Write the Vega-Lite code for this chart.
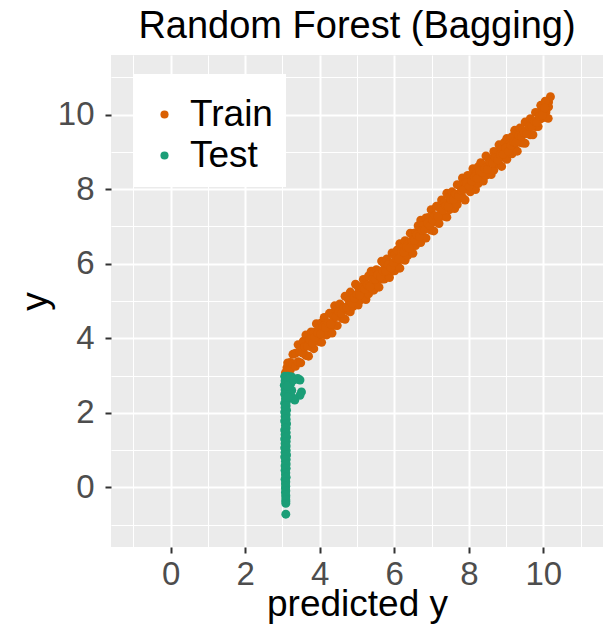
{
  "$schema": "https://vega.github.io/schema/vega-lite/v6.json",
  "width": 492,
  "height": 492,
  "autosize": {"type": "none"},
  "padding": {"left": 111, "top": 55, "right": 5, "bottom": 85},
  "background": "white",
  "title": {"text": "Random Forest (Bagging)", "fontSize": 38, "font": "Liberation Sans", "fontWeight": "normal", "color": "black", "anchor": "middle", "frame": "group", "baseline": "alphabetic", "offset": 16, "dy": 37},
  "config": {
    "view": {"fill": "#EBEBEB", "stroke": null},
    "font": "Liberation Sans",
    "axis": {"domain": false, "gridColor": "white", "tickColor": "#333333", "labelColor": "#4D4D4D", "labelFont": "Liberation Sans", "titleFont": "Liberation Sans", "titleFontWeight": "normal", "titleColor": "black", "labelFlush": false}
  },
  "data": {"values": [
    {"p":3.08,"y":3.08,"s":"Train"},{"p":3.10,"y":3.03,"s":"Train"},
    {"p":3.12,"y":3.21,"s":"Train"},{"p":3.11,"y":3.07,"s":"Train"},
    {"p":3.14,"y":3.34,"s":"Train"},{"p":3.14,"y":3.12,"s":"Train"},
    {"p":3.21,"y":3.35,"s":"Train"},{"p":3.21,"y":3.15,"s":"Train"},
    {"p":3.28,"y":3.57,"s":"Train"},{"p":3.28,"y":3.31,"s":"Train"},
    {"p":3.35,"y":3.60,"s":"Train"},{"p":3.35,"y":3.25,"s":"Train"},
    {"p":3.42,"y":3.83,"s":"Train"},{"p":3.42,"y":3.37,"s":"Train"},
    {"p":3.49,"y":3.77,"s":"Train"},{"p":3.49,"y":3.34,"s":"Train"},
    {"p":3.56,"y":3.92,"s":"Train"},{"p":3.56,"y":3.60,"s":"Train"},
    {"p":3.63,"y":4.09,"s":"Train"},{"p":3.63,"y":3.54,"s":"Train"},
    {"p":3.70,"y":3.95,"s":"Train"},{"p":3.70,"y":3.52,"s":"Train"},
    {"p":3.77,"y":4.17,"s":"Train"},{"p":3.77,"y":3.77,"s":"Train"},
    {"p":3.84,"y":4.16,"s":"Train"},{"p":3.84,"y":3.72,"s":"Train"},
    {"p":3.91,"y":4.39,"s":"Train"},{"p":3.91,"y":3.97,"s":"Train"},
    {"p":3.98,"y":4.25,"s":"Train"},{"p":3.98,"y":3.91,"s":"Train"},
    {"p":4.05,"y":4.42,"s":"Train"},{"p":4.05,"y":3.89,"s":"Train"},
    {"p":4.12,"y":4.56,"s":"Train"},{"p":4.12,"y":4.10,"s":"Train"},
    {"p":4.19,"y":4.42,"s":"Train"},{"p":4.19,"y":4.09,"s":"Train"},
    {"p":4.26,"y":4.67,"s":"Train"},{"p":4.26,"y":4.28,"s":"Train"},
    {"p":4.33,"y":4.67,"s":"Train"},{"p":4.33,"y":4.14,"s":"Train"},
    {"p":4.40,"y":4.87,"s":"Train"},{"p":4.40,"y":4.35,"s":"Train"},
    {"p":4.47,"y":4.77,"s":"Train"},{"p":4.47,"y":4.34,"s":"Train"},
    {"p":4.54,"y":4.92,"s":"Train"},{"p":4.54,"y":4.59,"s":"Train"},
    {"p":4.61,"y":4.82,"s":"Train"},{"p":4.61,"y":4.53,"s":"Train"},
    {"p":4.68,"y":5.13,"s":"Train"},{"p":4.68,"y":4.51,"s":"Train"},
    {"p":4.75,"y":5.08,"s":"Train"},{"p":4.75,"y":4.74,"s":"Train"},
    {"p":4.82,"y":5.24,"s":"Train"},{"p":4.82,"y":4.71,"s":"Train"},
    {"p":4.89,"y":5.15,"s":"Train"},{"p":4.89,"y":4.85,"s":"Train"},
    {"p":4.96,"y":5.45,"s":"Train"},{"p":4.96,"y":5.04,"s":"Train"},
    {"p":5.03,"y":5.38,"s":"Train"},{"p":5.03,"y":4.89,"s":"Train"},
    {"p":5.10,"y":5.38,"s":"Train"},{"p":5.10,"y":5.03,"s":"Train"},
    {"p":5.17,"y":5.58,"s":"Train"},{"p":5.17,"y":5.16,"s":"Train"},
    {"p":5.24,"y":5.46,"s":"Train"},{"p":5.24,"y":5.04,"s":"Train"},
    {"p":5.31,"y":5.67,"s":"Train"},{"p":5.31,"y":5.19,"s":"Train"},
    {"p":5.38,"y":5.80,"s":"Train"},{"p":5.38,"y":5.38,"s":"Train"},
    {"p":5.45,"y":5.72,"s":"Train"},{"p":5.45,"y":5.29,"s":"Train"},
    {"p":5.52,"y":5.84,"s":"Train"},{"p":5.52,"y":5.44,"s":"Train"},
    {"p":5.59,"y":5.80,"s":"Train"},{"p":5.59,"y":5.37,"s":"Train"},
    {"p":5.66,"y":6.07,"s":"Train"},{"p":5.66,"y":5.59,"s":"Train"},
    {"p":5.73,"y":6.00,"s":"Train"},{"p":5.73,"y":5.59,"s":"Train"},
    {"p":5.80,"y":6.13,"s":"Train"},{"p":5.80,"y":5.79,"s":"Train"},
    {"p":5.87,"y":6.03,"s":"Train"},{"p":5.87,"y":5.63,"s":"Train"},
    {"p":5.94,"y":6.29,"s":"Train"},{"p":5.94,"y":5.80,"s":"Train"},
    {"p":6.01,"y":6.23,"s":"Train"},{"p":6.01,"y":5.81,"s":"Train"},
    {"p":6.08,"y":6.37,"s":"Train"},{"p":6.08,"y":6.02,"s":"Train"},
    {"p":6.15,"y":6.54,"s":"Train"},{"p":6.15,"y":5.88,"s":"Train"},
    {"p":6.22,"y":6.42,"s":"Train"},{"p":6.22,"y":6.12,"s":"Train"},
    {"p":6.29,"y":6.62,"s":"Train"},{"p":6.29,"y":6.09,"s":"Train"},
    {"p":6.36,"y":6.53,"s":"Train"},{"p":6.36,"y":6.22,"s":"Train"},
    {"p":6.43,"y":6.82,"s":"Train"},{"p":6.43,"y":6.43,"s":"Train"},
    {"p":6.50,"y":6.81,"s":"Train"},{"p":6.50,"y":6.28,"s":"Train"},
    {"p":6.57,"y":6.83,"s":"Train"},{"p":6.57,"y":6.49,"s":"Train"},
    {"p":6.64,"y":7.02,"s":"Train"},{"p":6.64,"y":6.61,"s":"Train"},
    {"p":6.71,"y":7.17,"s":"Train"},{"p":6.71,"y":6.57,"s":"Train"},
    {"p":6.78,"y":7.02,"s":"Train"},{"p":6.78,"y":6.70,"s":"Train"},
    {"p":6.85,"y":7.23,"s":"Train"},{"p":6.85,"y":6.69,"s":"Train"},
    {"p":6.92,"y":7.24,"s":"Train"},{"p":6.92,"y":6.96,"s":"Train"},
    {"p":6.99,"y":7.45,"s":"Train"},{"p":6.99,"y":6.90,"s":"Train"},
    {"p":7.06,"y":7.28,"s":"Train"},{"p":7.06,"y":6.88,"s":"Train"},
    {"p":7.13,"y":7.54,"s":"Train"},{"p":7.13,"y":7.12,"s":"Train"},
    {"p":7.20,"y":7.55,"s":"Train"},{"p":7.20,"y":7.08,"s":"Train"},
    {"p":7.27,"y":7.71,"s":"Train"},{"p":7.27,"y":7.29,"s":"Train"},
    {"p":7.34,"y":7.63,"s":"Train"},{"p":7.34,"y":7.27,"s":"Train"},
    {"p":7.41,"y":7.89,"s":"Train"},{"p":7.41,"y":7.25,"s":"Train"},
    {"p":7.48,"y":7.79,"s":"Train"},{"p":7.48,"y":7.45,"s":"Train"},
    {"p":7.55,"y":7.93,"s":"Train"},{"p":7.55,"y":7.63,"s":"Train"},
    {"p":7.62,"y":7.87,"s":"Train"},{"p":7.62,"y":7.48,"s":"Train"},
    {"p":7.69,"y":8.12,"s":"Train"},{"p":7.69,"y":7.59,"s":"Train"},
    {"p":7.76,"y":8.10,"s":"Train"},{"p":7.76,"y":7.76,"s":"Train"},
    {"p":7.83,"y":8.30,"s":"Train"},{"p":7.83,"y":7.78,"s":"Train"},
    {"p":7.90,"y":8.17,"s":"Train"},{"p":7.90,"y":7.71,"s":"Train"},
    {"p":7.97,"y":8.37,"s":"Train"},{"p":7.97,"y":8.01,"s":"Train"},
    {"p":8.04,"y":8.36,"s":"Train"},{"p":8.04,"y":7.93,"s":"Train"},
    {"p":8.11,"y":8.55,"s":"Train"},{"p":8.11,"y":8.08,"s":"Train"},
    {"p":8.18,"y":8.40,"s":"Train"},{"p":8.18,"y":7.99,"s":"Train"},
    {"p":8.25,"y":8.60,"s":"Train"},{"p":8.25,"y":8.15,"s":"Train"},
    {"p":8.32,"y":8.71,"s":"Train"},{"p":8.32,"y":8.35,"s":"Train"},
    {"p":8.39,"y":8.65,"s":"Train"},{"p":8.39,"y":8.22,"s":"Train"},
    {"p":8.46,"y":8.89,"s":"Train"},{"p":8.46,"y":8.37,"s":"Train"},
    {"p":8.53,"y":8.83,"s":"Train"},{"p":8.53,"y":8.49,"s":"Train"},
    {"p":8.60,"y":8.80,"s":"Train"},{"p":8.60,"y":8.39,"s":"Train"},
    {"p":8.67,"y":9.01,"s":"Train"},{"p":8.67,"y":8.51,"s":"Train"},
    {"p":8.74,"y":9.00,"s":"Train"},{"p":8.74,"y":8.70,"s":"Train"},
    {"p":8.81,"y":9.19,"s":"Train"},{"p":8.81,"y":8.67,"s":"Train"},
    {"p":8.88,"y":9.07,"s":"Train"},{"p":8.88,"y":8.61,"s":"Train"},
    {"p":8.95,"y":9.25,"s":"Train"},{"p":8.95,"y":8.85,"s":"Train"},
    {"p":9.02,"y":9.36,"s":"Train"},{"p":9.02,"y":8.80,"s":"Train"},
    {"p":9.09,"y":9.21,"s":"Train"},{"p":9.09,"y":9.05,"s":"Train"},
    {"p":9.16,"y":9.41,"s":"Train"},{"p":9.16,"y":8.95,"s":"Train"},
    {"p":9.23,"y":9.58,"s":"Train"},{"p":9.23,"y":9.08,"s":"Train"},
    {"p":9.30,"y":9.49,"s":"Train"},{"p":9.30,"y":9.02,"s":"Train"},
    {"p":9.37,"y":9.64,"s":"Train"},{"p":9.37,"y":9.26,"s":"Train"},
    {"p":9.44,"y":9.58,"s":"Train"},{"p":9.44,"y":9.24,"s":"Train"},
    {"p":9.51,"y":9.80,"s":"Train"},{"p":9.51,"y":9.23,"s":"Train"},
    {"p":9.58,"y":9.78,"s":"Train"},{"p":9.58,"y":9.49,"s":"Train"},
    {"p":9.65,"y":9.89,"s":"Train"},{"p":9.65,"y":9.46,"s":"Train"},
    {"p":9.72,"y":9.82,"s":"Train"},{"p":9.72,"y":9.46,"s":"Train"},
    {"p":9.79,"y":10.06,"s":"Train"},{"p":9.79,"y":9.68,"s":"Train"},
    {"p":9.86,"y":10.05,"s":"Train"},{"p":9.86,"y":9.68,"s":"Train"},
    {"p":9.93,"y":10.25,"s":"Train"},{"p":9.93,"y":9.89,"s":"Train"},
    {"p":10.00,"y":10.18,"s":"Train"},{"p":10.00,"y":9.92,"s":"Train"},
    {"p":10.07,"y":10.30,"s":"Train"},{"p":10.07,"y":10.07,"s":"Train"},
    {"p":10.14,"y":10.34,"s":"Train"},{"p":10.14,"y":10.21,"s":"Train"},
    {"p":10.19,"y":10.48,"s":"Train"},{"p":10.13,"y":9.90,"s":"Train"},
    {"p":10.05,"y":10.36,"s":"Train"},
    {"p":3.46,"y":3.65,"s":"Train"},{"p":3.53,"y":3.61,"s":"Train"},{"p":3.60,"y":3.77,"s":"Train"},
    {"p":3.67,"y":3.79,"s":"Train"},{"p":3.74,"y":3.96,"s":"Train"},{"p":3.81,"y":3.88,"s":"Train"},
    {"p":3.88,"y":4.03,"s":"Train"},{"p":3.95,"y":4.14,"s":"Train"},{"p":4.02,"y":4.12,"s":"Train"},
    {"p":4.09,"y":4.32,"s":"Train"},{"p":4.16,"y":4.29,"s":"Train"},{"p":4.23,"y":4.41,"s":"Train"},
    {"p":4.30,"y":4.38,"s":"Train"},{"p":4.37,"y":4.58,"s":"Train"},{"p":4.44,"y":4.58,"s":"Train"},
    {"p":4.51,"y":4.71,"s":"Train"},{"p":4.58,"y":4.67,"s":"Train"},{"p":4.65,"y":4.82,"s":"Train"},
    {"p":4.72,"y":4.84,"s":"Train"},{"p":4.79,"y":5.01,"s":"Train"},{"p":4.86,"y":4.93,"s":"Train"},
    {"p":4.93,"y":5.08,"s":"Train"},{"p":5.00,"y":5.18,"s":"Train"},{"p":5.07,"y":5.16,"s":"Train"},
    {"p":5.14,"y":5.35,"s":"Train"},{"p":5.21,"y":5.32,"s":"Train"},{"p":5.28,"y":5.43,"s":"Train"},
    {"p":5.35,"y":5.39,"s":"Train"},{"p":5.42,"y":5.58,"s":"Train"},{"p":5.49,"y":5.58,"s":"Train"},
    {"p":5.56,"y":5.70,"s":"Train"},{"p":5.63,"y":5.65,"s":"Train"},{"p":5.70,"y":5.80,"s":"Train"},
    {"p":5.77,"y":5.81,"s":"Train"},{"p":5.84,"y":5.97,"s":"Train"},{"p":5.91,"y":5.89,"s":"Train"},
    {"p":5.98,"y":6.03,"s":"Train"},{"p":6.05,"y":6.14,"s":"Train"},{"p":6.12,"y":6.13,"s":"Train"},
    {"p":6.19,"y":6.33,"s":"Train"},{"p":6.26,"y":6.31,"s":"Train"},{"p":6.33,"y":6.44,"s":"Train"},
    {"p":6.40,"y":6.42,"s":"Train"},{"p":6.47,"y":6.62,"s":"Train"},{"p":6.54,"y":6.63,"s":"Train"},
    {"p":6.61,"y":6.77,"s":"Train"},{"p":6.68,"y":6.73,"s":"Train"},{"p":6.75,"y":6.89,"s":"Train"},
    {"p":6.82,"y":6.92,"s":"Train"},{"p":6.89,"y":7.09,"s":"Train"},{"p":6.96,"y":7.02,"s":"Train"},
    {"p":7.03,"y":7.18,"s":"Train"},{"p":7.10,"y":7.29,"s":"Train"},{"p":7.17,"y":7.27,"s":"Train"},
    {"p":7.24,"y":7.47,"s":"Train"},{"p":7.31,"y":7.44,"s":"Train"},{"p":7.38,"y":7.56,"s":"Train"},
    {"p":7.45,"y":7.53,"s":"Train"},{"p":7.52,"y":7.73,"s":"Train"},{"p":7.59,"y":7.73,"s":"Train"},
    {"p":7.66,"y":7.86,"s":"Train"},{"p":7.73,"y":7.82,"s":"Train"},{"p":7.80,"y":7.97,"s":"Train"},
    {"p":7.87,"y":7.99,"s":"Train"},{"p":7.94,"y":8.16,"s":"Train"},{"p":8.01,"y":8.07,"s":"Train"},
    {"p":8.08,"y":8.22,"s":"Train"},{"p":8.15,"y":8.32,"s":"Train"},{"p":8.22,"y":8.29,"s":"Train"},
    {"p":8.29,"y":8.49,"s":"Train"},{"p":8.36,"y":8.45,"s":"Train"},{"p":8.43,"y":8.56,"s":"Train"},
    {"p":8.50,"y":8.53,"s":"Train"},{"p":8.57,"y":8.72,"s":"Train"},{"p":8.64,"y":8.71,"s":"Train"},
    {"p":8.71,"y":8.84,"s":"Train"},{"p":8.78,"y":8.79,"s":"Train"},{"p":8.85,"y":8.93,"s":"Train"},
    {"p":8.92,"y":8.94,"s":"Train"},{"p":8.99,"y":9.11,"s":"Train"},{"p":9.06,"y":9.02,"s":"Train"},
    {"p":9.13,"y":9.17,"s":"Train"},{"p":9.20,"y":9.27,"s":"Train"},{"p":9.27,"y":9.25,"s":"Train"},
    {"p":9.34,"y":9.44,"s":"Train"},{"p":9.41,"y":9.41,"s":"Train"},{"p":9.48,"y":9.52,"s":"Train"},
    {"p":9.55,"y":9.49,"s":"Train"},{"p":9.62,"y":9.68,"s":"Train"},{"p":9.69,"y":9.68,"s":"Train"},
    {"p":9.76,"y":9.82,"s":"Train"},{"p":9.83,"y":9.79,"s":"Train"},{"p":9.90,"y":9.96,"s":"Train"},
    {"p":9.97,"y":9.99,"s":"Train"},{"p":10.04,"y":10.18,"s":"Train"},
    {"p":3.06,"y":2.98,"s":"Test"},{"p":3.07,"y":2.86,"s":"Test"},
    {"p":3.05,"y":2.74,"s":"Test"},{"p":3.07,"y":2.62,"s":"Test"},
    {"p":3.06,"y":2.50,"s":"Test"},{"p":3.08,"y":2.38,"s":"Test"},
    {"p":3.06,"y":2.26,"s":"Test"},{"p":3.07,"y":2.14,"s":"Test"},
    {"p":3.06,"y":2.02,"s":"Test"},{"p":3.07,"y":1.90,"s":"Test"},
    {"p":3.06,"y":1.78,"s":"Test"},{"p":3.08,"y":1.66,"s":"Test"},
    {"p":3.06,"y":1.54,"s":"Test"},{"p":3.07,"y":1.42,"s":"Test"},
    {"p":3.06,"y":1.30,"s":"Test"},{"p":3.07,"y":1.18,"s":"Test"},
    {"p":3.06,"y":1.06,"s":"Test"},{"p":3.07,"y":0.94,"s":"Test"},
    {"p":3.06,"y":0.82,"s":"Test"},{"p":3.08,"y":0.70,"s":"Test"},
    {"p":3.07,"y":0.58,"s":"Test"},{"p":3.07,"y":0.46,"s":"Test"},
    {"p":3.08,"y":0.34,"s":"Test"},{"p":3.07,"y":0.22,"s":"Test"},
    {"p":3.08,"y":0.10,"s":"Test"},{"p":3.08,"y":-0.02,"s":"Test"},
    {"p":3.08,"y":-0.14,"s":"Test"},{"p":3.09,"y":-0.26,"s":"Test"},
    {"p":3.09,"y":-0.38,"s":"Test"},
    {"p":3.11,"y":2.95,"s":"Test"},{"p":3.12,"y":2.81,"s":"Test"},
    {"p":3.10,"y":2.69,"s":"Test"},{"p":3.11,"y":2.55,"s":"Test"},
    {"p":3.10,"y":2.44,"s":"Test"},{"p":3.11,"y":2.31,"s":"Test"},
    {"p":3.10,"y":2.19,"s":"Test"},{"p":3.11,"y":2.07,"s":"Test"},
    {"p":3.10,"y":1.95,"s":"Test"},{"p":3.10,"y":1.83,"s":"Test"},
    {"p":3.11,"y":1.71,"s":"Test"},{"p":3.10,"y":1.59,"s":"Test"},
    {"p":3.10,"y":1.47,"s":"Test"},{"p":3.11,"y":1.35,"s":"Test"},
    {"p":3.10,"y":1.23,"s":"Test"},{"p":3.10,"y":1.11,"s":"Test"},
    {"p":3.10,"y":0.99,"s":"Test"},{"p":3.11,"y":0.87,"s":"Test"},
    {"p":3.10,"y":0.75,"s":"Test"},{"p":3.10,"y":0.63,"s":"Test"},
    {"p":3.10,"y":0.51,"s":"Test"},{"p":3.09,"y":0.39,"s":"Test"},
    {"p":3.10,"y":0.27,"s":"Test"},{"p":3.09,"y":0.15,"s":"Test"},
    {"p":3.09,"y":0.03,"s":"Test"},{"p":3.09,"y":-0.09,"s":"Test"},
    {"p":3.09,"y":-0.21,"s":"Test"},{"p":3.09,"y":-0.33,"s":"Test"},
    {"p":3.09,"y":-0.43,"s":"Test"},{"p":3.09,"y":-0.72,"s":"Test"},
    {"p":3.14,"y":2.98,"s":"Test"},{"p":3.19,"y":2.97,"s":"Test"},
    {"p":3.25,"y":2.96,"s":"Test"},{"p":3.16,"y":2.90,"s":"Test"},
    {"p":3.47,"y":2.88,"s":"Test"},{"p":3.41,"y":2.92,"s":"Test"},
    {"p":3.22,"y":2.78,"s":"Test"},{"p":3.51,"y":2.56,"s":"Test"},
    {"p":3.47,"y":2.47,"s":"Test"},{"p":3.33,"y":2.34,"s":"Test"},
    {"p":3.28,"y":2.40,"s":"Test"},{"p":3.25,"y":2.60,"s":"Test"},
    {"p":3.16,"y":2.65,"s":"Test"},{"p":3.20,"y":2.50,"s":"Test"},
    {"p":3.14,"y":2.72,"s":"Test"},{"p":3.15,"y":2.42,"s":"Test"},
    {"p":3.30,"y":2.88,"s":"Test"}
  ]},
  "layer": [
    {
      "transform": [{"filter": "datum.s === 'Train'"}],
      "mark": {"type": "point", "filled": true, "size": 80, "opacity": 1, "strokeWidth": 0},
      "encoding": {
        "x": {"field": "p", "type": "quantitative", "scale": {"domain": [-1.6, 11.6], "nice": false, "zero": false},
          "axis": {"values": [0, 2, 4, 6, 8, 10], "orient": "bottom", "grid": true, "gridWidth": 2, "tickSize": 6, "tickWidth": 2, "labelFontSize": 33, "labelPadding": 5, "title": "predicted y", "titleFontSize": 37, "titleBaseline": "alphabetic", "titleAlign": "center", "titleX": 246, "titleY": 68}},
        "y": {"field": "y", "type": "quantitative", "scale": {"domain": [-1.6, 11.6], "nice": false, "zero": false},
          "axis": {"values": [0, 2, 4, 6, 8, 10], "orient": "left", "grid": true, "gridWidth": 2, "tickSize": 6, "tickWidth": 2, "labelFontSize": 33, "labelPadding": 11, "title": "y", "titleFontSize": 37, "titleBaseline": "alphabetic", "titleAngle": -90, "titleAlign": "center", "titleX": -65, "titleY": 246}},
        "color": {"field": "s", "type": "nominal", "scale": {"domain": ["Train", "Test"], "range": ["#D95F02", "#1B9E77"]},
          "legend": {"title": " ", "titleFontSize": 1, "titlePadding": 8, "orient": "none", "legendX": 22, "legendY": 19, "fillColor": "white", "padding": 13, "labelFontSize": 37, "labelFont": "Liberation Sans", "labelColor": "black", "symbolType": "circle", "symbolSize": 66, "symbolOffset": 0, "labelOffset": 7, "rowPadding": 3, "symbolStrokeWidth": 0}}
      }
    },
    {
      "transform": [{"filter": "datum.s === 'Test'"}],
      "mark": {"type": "point", "filled": true, "size": 80, "opacity": 1, "strokeWidth": 0},
      "encoding": {
        "x": {"field": "p", "type": "quantitative", "scale": {"domain": [-1.6, 11.6], "nice": false, "zero": false},
          "axis": {"values": [-1, 1, 3, 5, 7, 9, 11], "orient": "bottom", "grid": true, "gridWidth": 1, "ticks": false, "labels": false, "domain": false, "title": null}},
        "y": {"field": "y", "type": "quantitative", "scale": {"domain": [-1.6, 11.6], "nice": false, "zero": false},
          "axis": {"values": [-1, 1, 3, 5, 7, 9, 11], "orient": "left", "grid": true, "gridWidth": 1, "ticks": false, "labels": false, "domain": false, "title": null}},
        "color": {"field": "s", "type": "nominal", "scale": {"domain": ["Train", "Test"], "range": ["#D95F02", "#1B9E77"]},
          "legend": {"title": " ", "titleFontSize": 1, "titlePadding": 8, "orient": "none", "legendX": 22, "legendY": 19, "fillColor": "white", "padding": 13, "labelFontSize": 37, "labelFont": "Liberation Sans", "labelColor": "black", "symbolType": "circle", "symbolSize": 66, "symbolOffset": 0, "labelOffset": 7, "rowPadding": 3, "symbolStrokeWidth": 0}}
      }
    }
  ],
  "resolve": {"axis": {"x": "independent", "y": "independent"}}
}
